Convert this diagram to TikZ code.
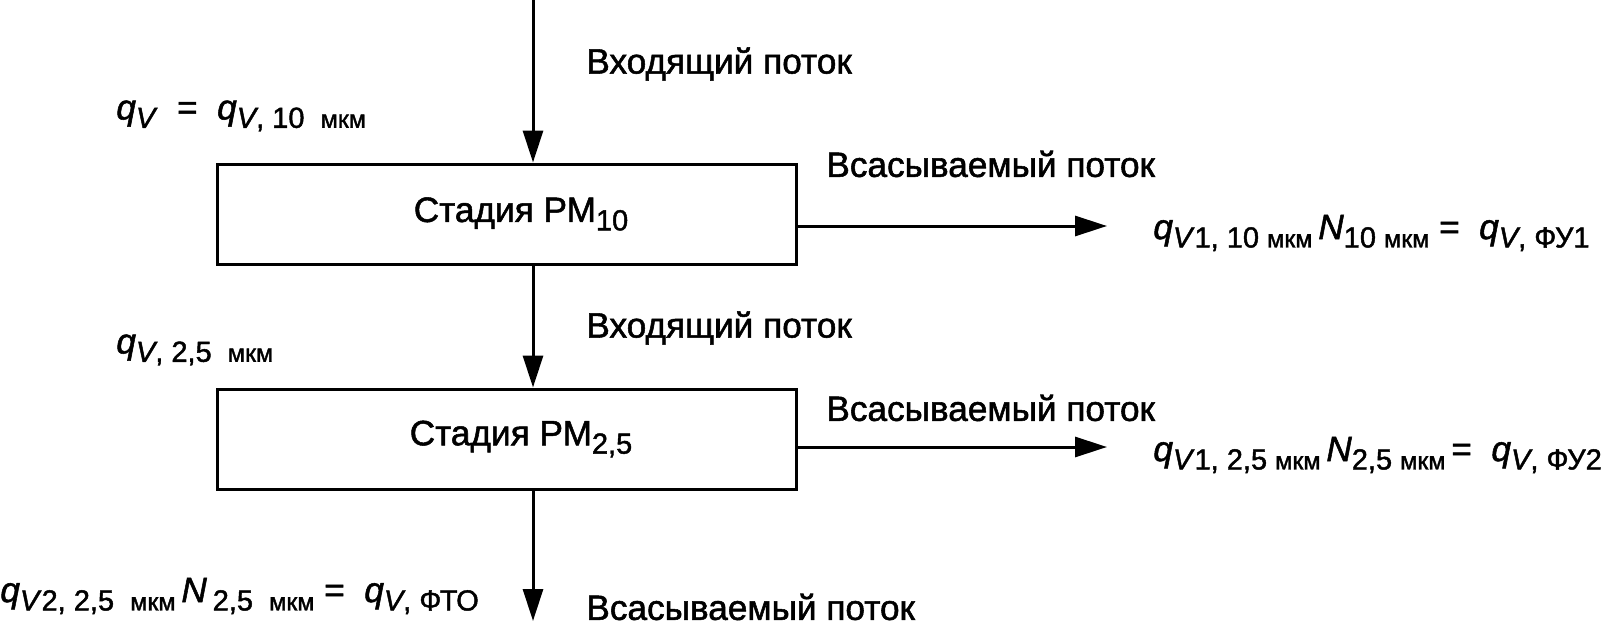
\documentclass[tikz,border=0pt]{standalone}
\usepackage{fontspec}
\setmainfont{Liberation Sans}[FakeBold=1.5]
\usetikzlibrary{arrows.meta,positioning}
\newcommand{\qq}{\textit{q}}
\newcommand{\sbx}[1]{\raisebox{-0.45ex}{\fontsize{14.5}{16}\selectfont #1}}
\newcommand{\mkm}{{\fontsize{12.5}{14}\selectfont мкм}}

\begin{document}
\begin{tikzpicture}[x=0.5pt, y=-0.5pt, font=\fontsize{17.6}{21}\selectfont,
  stage/.style={draw, line width=1.5pt, minimum width=289.5pt, minimum height=50pt, inner sep=0pt},
  lbl/.style={anchor=west, inner sep=0pt},
  arr/.style={-{Triangle[length=16pt, width=10pt]}, line width=1.5pt}]
\useasboundingbox (0,0) rectangle (1607,621);
% stages
\node[stage] (s1) at (507,214) {\hspace*{14pt}Стадия РМ\sbx{10}};
\node[stage] (s2) at (507,439) {\hspace*{14pt}Стадия РМ\sbx{2,5}};
% free ends of the flows
\coordinate (top) at (533,0);
\coordinate (bot) at (533,621);
\coordinate (out1) at (1107,226);
\coordinate (out2) at (1107,447);
% flows
\draw[arr] (top) -- (top |- s1.north);
\draw[arr] (s1.south -| top) -- (top |- s2.north);
\draw[arr] (s2.south -| top) -- (bot);
\draw[arr] (s1.east |- out1) -- (out1);
\draw[arr] (s2.east |- out2) -- (out2);
% labels
\node[lbl] (in1) at (586,64) {Входящий поток};
\node[lbl] (qa) at (116,116) {\qq\sbx{\textit{V}}\ \ = \ \qq\sbx{\textit{V}, 10 \ \mkm}};
\node[lbl] (suc1) at (826,164) {Всасываемый поток};
\node[lbl] (fa) at (1153,233) {\qq\sbx{\textit{V}1, 10 \mkm}\,\textit{N}\sbx{10 \mkm} = \ \qq\sbx{\textit{V}, ФУ1}};
\node[lbl] (in2) at (586,328) {Входящий поток};
\node[lbl] (qb) at (116,350) {\qq\sbx{\textit{V}, 2,5 \ \mkm}};
\node[lbl] (suc2) at (826,408) {Всасываемый поток};
\node[lbl] (fb) at (1153,455) {\qq\sbx{\textit{V}1, 2,5 \mkm}\,\textit{N}\sbx{2,5 \mkm}\,= \ \qq\sbx{\textit{V}, ФУ2}};
\node[lbl] (fc) at (0,596) {\qq\sbx{\textit{V}2, 2,5 \ \mkm}\,\textit{N}\,\sbx{2,5 \ \mkm} = \ \qq\sbx{\textit{V}, ФТО}};
\node[lbl] (suc3) at (586,607) {Всасываемый поток};
\end{tikzpicture}
\end{document}
